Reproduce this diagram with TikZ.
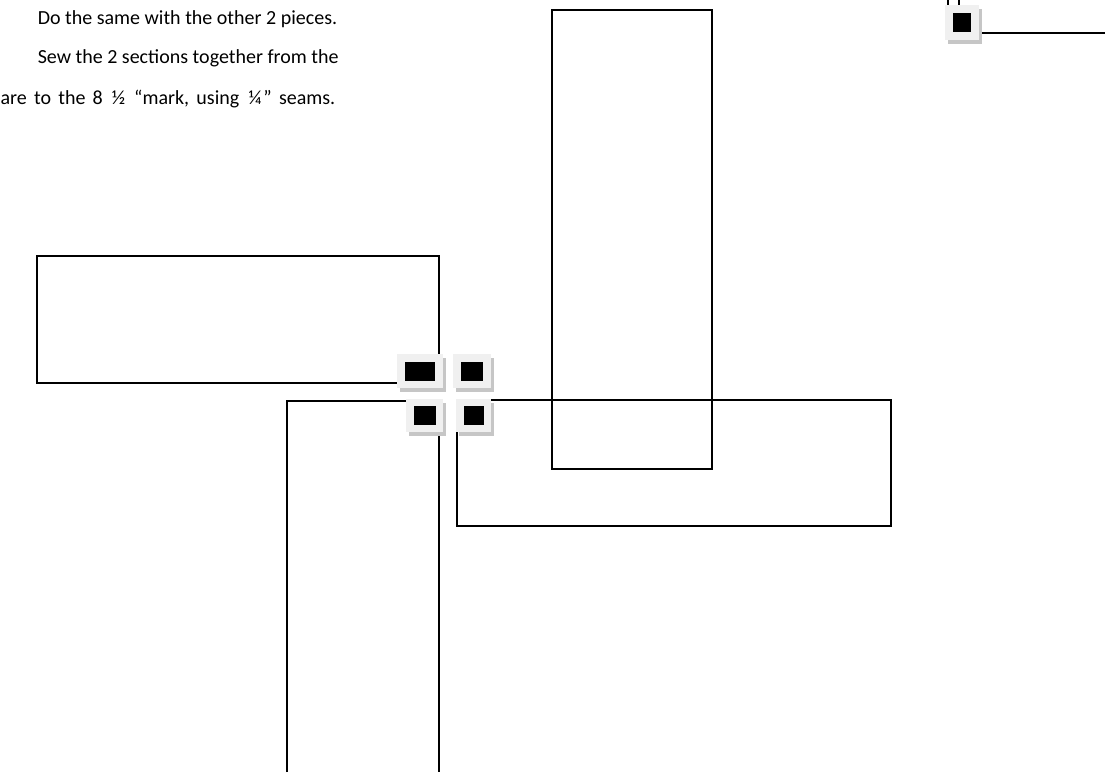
\documentclass[tikz,border=0pt]{standalone}
\usepackage{fontspec}
\setmainfont{Carlito}
\newcommand\frc[1]{\makebox[0.85em][c]{#1}}
\begin{document}
\begin{tikzpicture}[x=1pt,y=-1pt,line width=1.5pt,
  grip/.style={fill=gray!12,draw=none,inner sep=0pt},
  gripshade/.style={fill=gray!45,draw=none,inner sep=0pt},
  dot/.style={fill=black,draw=none,inner sep=0pt},
  txt/.style={font=\fontsize{20}{24}\selectfont,inner sep=0pt}]
\useasboundingbox (0,0) rectangle (1105,772);
% instructions
\node[txt,anchor=base west] (l1) at (37,24){Do the same with the other 2 pieces.};
\node[txt,anchor=base west] (l2) at (37,63){Sew the 2 sections together from the};
\node[txt,anchor=base east] (l3) at (336,104){\spaceskip=7.2pt uare to the 8 \frc{½} “mark, using \frc{¼}” seams.};
% strips
\draw (37,256) rectangle (439,383);
\draw (552,10) rectangle (712,469);
\draw (457,400) rectangle (891,526);
\draw (287,772)--(287,401)--(439,401)--(439,772);
\draw (948,0)--(948,6); \draw (959,0)--(959,6); \draw (979,33)--(1105,33);
% grips
\foreach \n/\cx/\cy/\w/\h/\bw/\bh in {g1/420/371/46/34/30/19, g2/472/371/38/34/22/19,
  g3/424.5/415.5/37/33/22/19, g4/473.5/415.5/35/33/20/19, g5/962/22.5/34/35/18/19}{
  \node[gripshade,minimum width=\w pt,minimum height=\h pt] at (\cx+3,\cy+4){};
  \node[grip,minimum width=\w pt,minimum height=\h pt] (\n) at (\cx,\cy){};
  \node[dot,minimum width=\bw pt,minimum height=\bh pt] (\n d) at (\n){};
}
\end{tikzpicture}
\end{document}
